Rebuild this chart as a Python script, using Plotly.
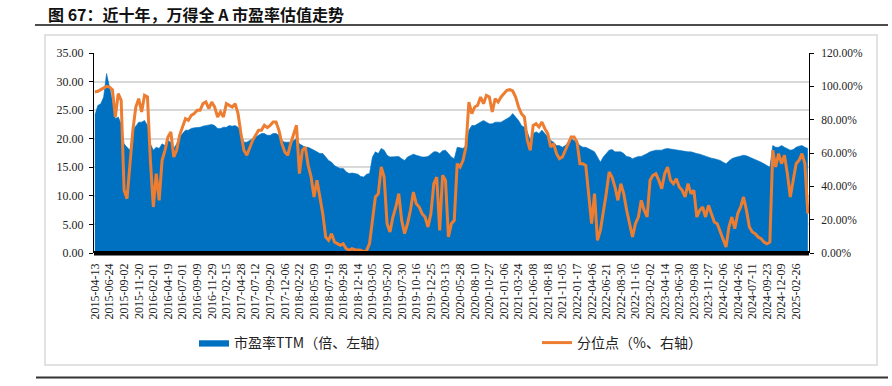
import plotly.graph_objects as go

# ---------------- data ----------------
tick_labels = [
    "2015-04-13", "2015-06-24", "2015-09-02", "2015-11-20", "2016-02-01", "2016-04-19",
    "2016-07-01", "2016-09-09", "2016-11-29", "2017-02-15", "2017-04-28", "2017-07-12",
    "2017-09-20", "2017-12-06", "2018-02-22", "2018-05-09", "2018-07-19", "2018-09-28",
    "2018-12-14", "2019-03-05", "2019-05-20", "2019-07-30", "2019-10-16", "2019-12-25",
    "2020-03-13", "2020-05-28", "2020-08-10", "2020-10-27", "2021-01-06", "2021-03-24",
    "2021-06-08", "2021-08-18", "2021-11-05", "2022-01-17", "2022-04-06", "2022-06-21",
    "2022-08-30", "2022-11-16", "2023-02-02", "2023-04-14", "2023-06-30", "2023-09-08",
    "2023-11-27", "2024-02-06", "2024-04-26", "2024-07-11", "2024-09-23", "2024-12-09",
    "2025-02-26",
]
tick_step = 50          # trading days between labelled dates
sample_step = 10        # trading days between sampled values

pe_ttm = [
    24.1, 25.8, 26.1, 27.3, 31.4, 29.0, 26.7, 23.5, 23.8, 22.6,
    19.1, 18.5, 18.0, 21.5, 22.3, 22.9, 22.9, 23.2, 22.3, 19.1,
    18.0, 18.5, 18.3, 19.1, 18.8, 19.7, 19.4, 18.3, 19.1, 20.3,
    20.9, 21.5, 21.5, 21.8, 21.9, 21.9, 22.0, 22.2, 22.3, 22.3,
    22.5, 22.3, 21.8, 21.8, 22.0, 22.0, 22.3, 22.2, 22.3, 22.0,
    20.9, 19.4, 19.4, 19.7, 20.0, 20.3, 20.6, 20.9, 20.9, 20.6,
    20.6, 20.9, 20.9, 20.6, 19.7, 19.4, 19.4, 19.4, 19.7, 20.0,
    19.1, 18.8, 18.5, 18.5, 18.3, 18.0, 17.7, 17.4, 17.4, 16.8,
    16.2, 15.9, 15.3, 15.0, 14.8, 14.8, 14.2, 13.9, 14.0, 13.9,
    13.8, 13.4, 13.3, 13.8, 13.9, 16.8, 17.7, 17.4, 18.3, 18.0,
    17.1, 16.8, 16.8, 16.8, 16.9, 16.5, 16.2, 16.8, 17.1, 17.3,
    17.1, 16.9, 16.8, 16.8, 16.9, 17.3, 17.7, 17.7, 17.4, 17.9,
    18.0, 17.4, 16.8, 16.5, 18.5, 18.4, 18.3, 18.8, 21.5, 22.3,
    22.3, 22.6, 22.9, 23.2, 22.9, 22.6, 22.6, 22.9, 22.9, 22.9,
    23.2, 23.5, 23.8, 24.4, 23.8, 23.2, 22.3, 22.0, 21.2, 19.7,
    20.9, 21.2, 20.9, 21.5, 20.9, 20.3, 19.7, 19.4, 18.8, 18.8,
    18.5, 18.8, 19.4, 20.0, 19.7, 19.4, 18.8, 18.5, 18.5, 18.3,
    18.0, 17.7, 16.8, 15.9, 16.8, 17.4, 18.0, 18.1, 17.7, 17.7,
    17.7, 17.4, 16.9, 16.8, 16.5, 16.7, 16.9, 16.9, 17.1, 17.4,
    17.7, 17.9, 18.0, 18.0, 18.0, 18.2, 18.3, 18.2, 18.1, 18.0,
    18.0, 17.9, 17.7, 17.7, 17.7, 17.5, 17.4, 17.3, 17.1, 17.0,
    16.8, 16.6, 16.5, 16.4, 16.2, 15.9, 15.6, 16.1, 16.5, 16.7,
    16.8, 17.0, 17.1, 17.0, 16.8, 16.5, 16.3, 16.1, 15.9, 15.6,
    15.3, 15.0, 18.8, 18.5, 18.5, 18.8, 18.5, 18.3, 18.0, 18.1,
    18.5, 18.7, 18.8, 18.5, 18.3,
]

percentile = [
    96.6, 97.0, 98.0, 99.0, 100.0, 99.6, 98.0, 81.6, 95.6, 91.6,
    37.6, 32.6, 53.6, 73.6, 87.6, 92.6, 84.6, 94.6, 93.6, 55.6,
    27.6, 47.6, 31.6, 55.6, 61.6, 69.6, 72.6, 57.6, 61.6, 70.6,
    75.6, 80.6, 79.6, 82.6, 83.6, 85.6, 85.6, 89.6, 90.6, 86.6,
    90.6, 87.6, 81.6, 84.6, 81.6, 89.6, 88.6, 87.6, 89.6, 83.6,
    71.6, 61.6, 58.6, 63.6, 67.6, 70.6, 73.6, 73.6, 76.6, 75.2,
    76.6, 78.6, 78.6, 73.6, 65.6, 60.6, 58.6, 65.6, 70.6, 76.6,
    47.6, 61.6, 63.6, 52.6, 45.6, 33.6, 43.6, 33.6, 23.6, 9.6,
    7.6, 11.6, 6.6, 5.6, 4.6, 5.6, 2.6, 1.6, 2.6, 2.0,
    2.0, 1.6, 0.6, 1.6, 5.6, 21.6, 33.6, 35.6, 51.6, 45.6,
    17.6, 12.6, 21.6, 27.6, 35.6, 19.6, 11.6, 17.6, 25.6, 36.6,
    29.6, 27.6, 23.6, 21.6, 15.6, 23.6, 41.6, 45.6, 13.6, 46.6,
    43.6, 9.6, 17.6, 19.6, 53.6, 51.6, 55.6, 63.6, 90.6, 83.6,
    87.6, 88.6, 93.6, 89.6, 94.6, 93.6, 84.6, 92.6, 90.6, 93.6,
    95.6, 97.6, 98.0, 97.2, 93.6, 87.6, 83.6, 81.6, 67.6, 61.6,
    76.6, 77.6, 75.6, 78.6, 74.6, 71.6, 63.6, 65.6, 59.6, 56.6,
    57.6, 61.6, 65.6, 69.6, 69.6, 66.6, 53.6, 53.6, 52.6, 35.6,
    17.6, 35.6, 7.6, 13.6, 23.6, 35.6, 48.6, 45.6, 39.6, 31.6,
    41.6, 35.6, 25.6, 17.6, 9.6, 17.6, 21.6, 31.6, 25.6, 21.6,
    43.6, 46.6, 47.6, 43.6, 38.6, 47.6, 51.6, 43.6, 41.6, 44.6,
    39.6, 37.6, 33.6, 41.6, 35.6, 37.6, 21.6, 25.6, 27.6, 21.6,
    28.6, 23.6, 18.6, 17.6, 12.6, 7.6, 3.6, 15.6, 21.6, 14.6,
    23.6, 27.6, 33.6, 25.6, 15.6, 12.6, 11.6, 9.6, 8.6, 6.6,
    5.6, 6.6, 61.6, 51.6, 59.6, 53.6, 58.6, 47.6, 33.6, 43.6,
    53.6, 55.6, 59.6, 53.6, 23.6,
]

day_index = [k * sample_step for k in range(len(pe_ttm))]
tick_positions = [k * tick_step for k in range(len(tick_labels))]

# ---------------- styles ----------------
BLUE = "#0070C0"
ORANGE = "#ED7D31"
SERIF = "Liberation Serif"
CJK = "Noto Sans CJK SC"

# plot area in px: left 94, right 809, top 53, bottom 253
L, R, T, B = 94, 83, 53, 133
W, H = 892, 386
PW, PH = W - L - R, H - T - B


def px_x(x):
    return (x - L) / PW


def px_y(y):
    return (H - B - y) / PH


fig = go.Figure()
fig.add_trace(go.Scatter(
    x=day_index, y=pe_ttm, name="市盈率TTM（倍、左轴）",
    mode="lines", fill="tozeroy", fillcolor=BLUE,
    line=dict(color=BLUE, width=0.6), legend="legend", showlegend=True,
))
fig.add_trace(go.Scatter(
    x=day_index, y=percentile, name="分位点（%、右轴）", yaxis="y2",
    mode="lines", line=dict(color=ORANGE, width=3), legend="legend2",
    showlegend=True,
))

axis_font = dict(family=SERIF, size=12, color="#222")
axis_font_r = dict(family=SERIF, size=11.5, color="#222")
legend_font = dict(family=CJK, size=14, color="#222")

fig.update_layout(
    width=W, height=H, showlegend=True,
    margin=dict(l=L, r=R, t=T, b=B, pad=0, autoexpand=False),
    paper_bgcolor="white", plot_bgcolor="white",
    xaxis=dict(
        range=[-3, day_index[-1] + 4], automargin=False,
        tickmode="array", tickvals=tick_positions, ticktext=tick_labels,
        tickangle=-90, tickfont=axis_font, showgrid=False, zeroline=False,
        showline=False, ticks="", ticklabelstandoff=7,
    ),
    yaxis=dict(
        range=[0, 35], dtick=5, tickformat=".2f", tickfont=axis_font,
        automargin=False,
        showgrid=True, gridcolor="#d9d9d9", gridwidth=1.5, zeroline=False,
        showline=True, linecolor="#000", linewidth=1,
        ticks="outside", ticklen=4, tickcolor="#000", ticklabelstandoff=3,
    ),
    yaxis2=dict(
        overlaying="y", side="right", automargin=False,
        range=[0, 120], dtick=20, tickformat=".2f", ticksuffix="%",
        tickfont=axis_font_r, showgrid=False, zeroline=False,
        showline=True, linecolor="#000", linewidth=1,
        ticks="outside", ticklen=4, tickcolor="#000", ticklabelstandoff=5,
    ),
    legend=dict(
        xref="container", yref="container",
        x=194 / W, y=1 - 343 / H, xanchor="left", yanchor="middle",
        orientation="h", bgcolor="rgba(0,0,0,0)", font=legend_font,
    ),
    legend2=dict(
        xref="container", yref="container",
        x=537 / W, y=1 - 343 / H, xanchor="left", yanchor="middle",
        orientation="h", bgcolor="rgba(0,0,0,0)", font=legend_font,
    ),
    shapes=[
        # outer panel border
        dict(type="rect", xref="paper", yref="paper",
             x0=px_x(45), x1=px_x(877), y0=px_y(365), y1=px_y(35),
             line=dict(color="#d9d9d9", width=1.5), layer="below"),
        # thick baseline
        dict(type="rect", xref="paper", yref="paper",
             x0=0, x1=1, y0=px_y(255.5), y1=px_y(251),
             fillcolor="#000", line=dict(width=0), layer="above"),
        # title underline
        dict(type="line", xref="paper", yref="paper",
             x0=px_x(35), x1=px_x(888), y0=px_y(25), y1=px_y(25),
             line=dict(color="#111", width=1.5)),
        # bottom rule
        dict(type="line", xref="paper", yref="paper",
             x0=px_x(36), x1=px_x(888), y0=px_y(377.5), y1=px_y(377.5),
             line=dict(color="#333", width=2)),
    ],
    annotations=[
        dict(text="<b>图 67：近十年，万得全 A 市盈率估值走势</b>",
             xref="paper", yref="paper", x=px_x(46), y=px_y(13.5),
             xanchor="left", yanchor="middle", showarrow=False,
             font=dict(family=CJK, size=16, color="#111")),
    ],
)

fig.write_html(
    "out.html",
    config={"displayModeBar": False},
    post_script="document.body.style.margin='0';",
)
